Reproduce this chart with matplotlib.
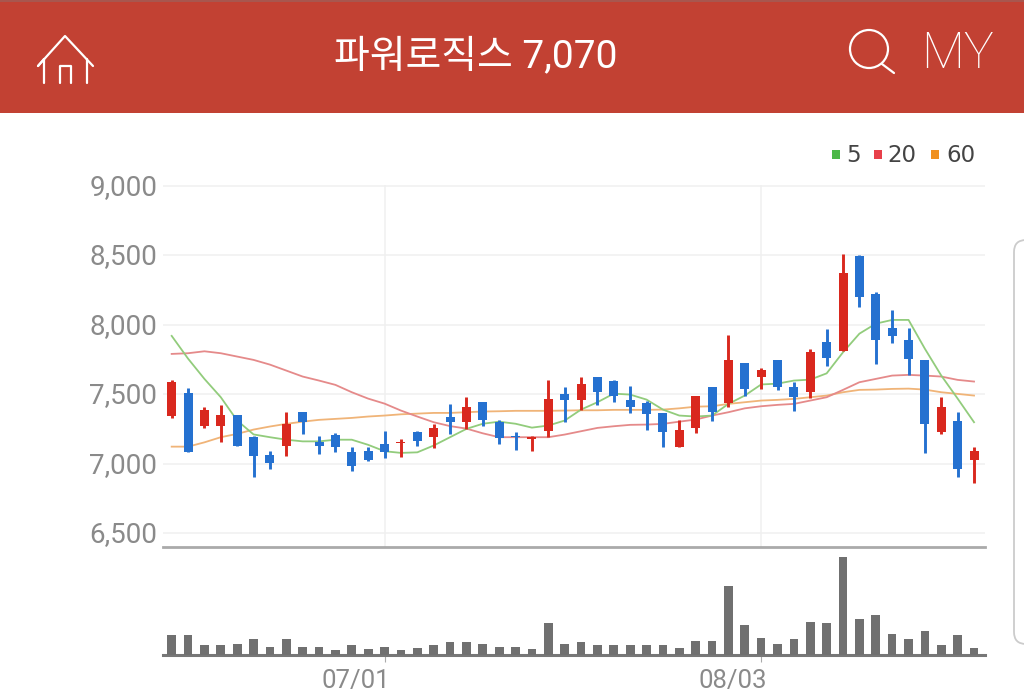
#!/usr/bin/env python3
import numpy as np
import matplotlib
matplotlib.use("Agg")
import matplotlib.pyplot as plt
from matplotlib.patches import Rectangle, FancyBboxPatch, Circle
from matplotlib.transforms import ScaledTranslation

plt.rcParams['font.family'] = ['Roboto', 'Noto Sans CJK KR', 'DejaVu Sans']

OUT = "out.png"
W, H = 1024, 700

# ohlc, red candles close above open
opens = [7346, 7509, 7274, 7274, 7353, 7190, 7063, 7130, 7375, 7153, 7207, 7081, 7089,
         7142, 7146, 7230, 7194, 7334, 7298, 7447, 7302, 7200, 7178, 7233, 7502, 7461,
         7627, 7598, 7459, 7437, 7362, 7117, 7257, 7550, 7437, 7728, 7622, 7747, 7550,
         7514, 7874, 7814, 8494, 8222, 7978, 7893, 7747, 7226, 7310, 7027]
closes = [7586, 7081, 7389, 7353, 7130, 7058, 7002, 7286, 7298, 7130, 7117, 6986, 7029,
          7086, 7158, 7161, 7257, 7298, 7405, 7317, 7182, 7190, 7190, 7466, 7461, 7574,
          7514, 7490, 7411, 7358, 7226, 7243, 7490, 7370, 7747, 7538, 7677, 7550, 7478,
          7802, 7759, 8374, 8203, 7891, 7920, 7754, 7286, 7405, 6962, 7094]
highs = [7600, 7542, 7406, 7425, 7353, 7200, 7094, 7375, 7375, 7197, 7218, 7122, 7117,
         7238, 7175, 7238, 7286, 7430, 7478, 7447, 7315, 7226, 7197, 7605, 7550, 7627,
         7627, 7605, 7562, 7449, 7362, 7315, 7490, 7550, 7927, 7728, 7686, 7747, 7586,
         7823, 7970, 8511, 8505, 8233, 8107, 7978, 7747, 7478, 7375, 7122]
lows = [7331, 7081, 7254, 7153, 7130, 6900, 6962, 7058, 7214, 7070, 7081, 6945, 7017,
        7038, 7045, 7130, 7110, 7214, 7250, 7274, 7142, 7099, 7094, 7190, 7302, 7387,
        7423, 7442, 7365, 7243, 7117, 7117, 7221, 7310, 7405, 7485, 7538, 7530, 7382,
        7473, 7701, 7814, 8130, 7714, 7870, 7641, 7077, 7214, 6901, 6858]

ma5 = [7920, 7756, 7610, 7478, 7310, 7210, 7190, 7172, 7160, 7160, 7172, 7172, 7135,
       7089, 7077, 7081, 7130, 7190, 7250, 7287, 7302, 7287, 7259, 7274, 7310, 7389,
       7442, 7504, 7497, 7461, 7389, 7346, 7339, 7346, 7430, 7490, 7570, 7576, 7598,
       7605, 7650, 7802, 7936, 8008, 8035, 8035, 7827, 7634, 7468, 7298]
ma20 = [7790, 7795, 7809, 7795, 7771, 7747, 7713, 7670, 7627, 7598, 7567, 7514, 7468,
        7432, 7382, 7339, 7298, 7270, 7252, 7218, 7190, 7190, 7190, 7190, 7209, 7233,
        7257, 7269, 7279, 7281, 7286, 7302, 7317, 7346, 7370, 7398, 7413, 7423, 7430,
        7454, 7478, 7531, 7586, 7610, 7634, 7639, 7634, 7627, 7603, 7591]
ma60 = [7122, 7122, 7153, 7190, 7214, 7245, 7267, 7286, 7302, 7315, 7322, 7329, 7339,
        7346, 7355, 7360, 7365, 7365, 7370, 7375, 7377, 7380, 7380, 7380, 7382, 7384,
        7384, 7387, 7387, 7387, 7389, 7398, 7410, 7413, 7430, 7442, 7454, 7459, 7466,
        7478, 7490, 7514, 7531, 7533, 7538, 7540, 7533, 7514, 7502, 7490]

volumes = [200, 200, 97, 97, 110, 157, 83, 157, 83, 83, 50, 97, 57, 83, 50, 67, 97, 127,
           127, 110, 83, 83, 57, 317, 110, 127, 97, 97, 97, 97, 97, 67, 140, 140, 693,
           300, 170, 110, 157, 330, 317, 983, 360, 403, 213, 157, 243, 97, 200, 67]

price_ticks = [6500, 7000, 7500, 8000, 8500, 9000]
date_idx = [13, 36]
date_labels = ["07/01", "08/03"]
legend_labels = ["5", "20", "60"]
title = "파워로직스 7,070"

RED = "#d9281e"
BLUE = "#2571d0"


def px_axes(l, t, r, b):
    return fig.add_axes([l/W, 1-b/H, (r-l)/W, (b-t)/H])


fig = plt.figure(figsize=(W/100, H/100), dpi=100, facecolor="white")

# page overlay in pixel coordinates, for the header and the icons
page = fig.add_axes([0, 0, 1, 1], zorder=0)
page.set_xlim(0, W)
page.set_ylim(H, 0)
page.axis("off")
page.add_patch(Rectangle((0, 0), W, 113, fc="#c24133", ec="none"))
page.add_patch(Rectangle((0, 0), W, 2, fc="#a8564e", ec="none"))
page.add_patch(FancyBboxPatch((1020, 246), 40, 392, boxstyle="round,pad=6,rounding_size=12",
                              fc="white", ec="#cccccc", lw=1.3))

page.text(476, 56, title, color="white", fontsize=28, ha="center", va="center",
          family=['Roboto', 'Noto Sans CJK KR'], weight="regular")

# home icon
hw = dict(color="white", lw=1.6, solid_capstyle="round", solid_joinstyle="round")
page.plot([38, 65, 93], [66, 36, 66], **hw)
page.plot([38, 44], [66, 59], **hw)
page.plot([44, 44], [59, 83], **hw)
page.plot([87, 87], [59, 83], **hw)
page.plot([60, 60, 71, 71], [83, 66, 66, 83], **hw)

# search icon
page.add_patch(Circle((869, 49), 19, fc="none", ec="white", lw=1.6))
page.plot([882, 894], [64, 73], **hw)
page.text(957, 54, "MY", color="white", fontsize=36, ha="center", va="center", weight="light")

# legend
for x0, c, tx, lab in zip([836, 878, 935], ["#4cb848", "#e8404a", "#f0901e"], [846, 887, 946], legend_labels):
    page.add_patch(Rectangle((x0-4, 150), 8, 9, fc=c, ec="none"))
    page.text(tx, 155, lab, color="#444444", fontsize=16.5, ha="left", va="center",
              family="DejaVu Sans")

# price panel
ax = px_axes(163, 186-1, 985, 547)
x = np.arange(len(opens))
ax.set_xlim(-0.53, 49.67)
ax.set_ylim(6399, 9007)
ax.set_facecolor("none")
for s in ["top", "left", "right"]:
    ax.spines[s].set_visible(False)
ax.spines["bottom"].set_color("#aaaaaa")
ax.spines["bottom"].set_linewidth(2)
ax.set_yticks(price_ticks)
ax.set_yticklabels([f"{v:,}" for v in price_ticks], color="#8a8a8a", fontsize=20)
ax.tick_params(axis="y", length=0, pad=4)
# labels sit a little high in the reference
shift = ScaledTranslation(0, 1.5/100, fig.dpi_scale_trans)
for lab in ax.get_yticklabels():
    lab.set_transform(lab.get_transform() + shift)
ax.set_xticks(date_idx)
ax.set_xticklabels([])
ax.tick_params(axis="x", length=0)
ax.grid(True, color="#f0f0f0", lw=1.1)
ax.set_axisbelow(True)

ax.plot(x, ma60, color="#f0b478", lw=1.3, zorder=2)
ax.plot(x, ma20, color="#e58a8a", lw=1.3, zorder=2)
ax.plot(x, ma5, color="#92cc7c", lw=1.3, zorder=2)

colors = [RED if c >= o else BLUE for o, c in zip(opens, closes)]
ax.vlines(x, lows, highs, colors=colors, lw=2.1, zorder=3)
body_low = np.minimum(opens, closes)
body_h = np.abs(np.array(closes) - np.array(opens))
ax.bar(x, body_h, bottom=body_low, width=0.55, color=colors, zorder=3)

# volume panel
vax = px_axes(163, 547, 985, 655)
vax.set_xlim(-0.53, 49.67)
vax.set_ylim(0, 1080)
vax.set_facecolor("none")
for s in ["top", "left", "right"]:
    vax.spines[s].set_visible(False)
vax.spines["bottom"].set_color("#777777")
vax.spines["bottom"].set_linewidth(2.2)
vax.bar(x, volumes, width=0.53, color="#707070", zorder=3)
vax.set_yticks([])
vax.set_xticks(date_idx)
vax.set_xticklabels([])
vax.tick_params(axis="x", length=5, width=0.8, color="#aaaaaa")
for i, lab in zip(date_idx, date_labels):
    vax.annotate(lab, xy=(i, 0), xytext=(-20.5, -18.5), textcoords="offset points",
                 ha="center", va="center", color="#8a8a8a", fontsize=18.5)

plt.savefig(OUT, dpi=100)
print("Saved:", OUT)
